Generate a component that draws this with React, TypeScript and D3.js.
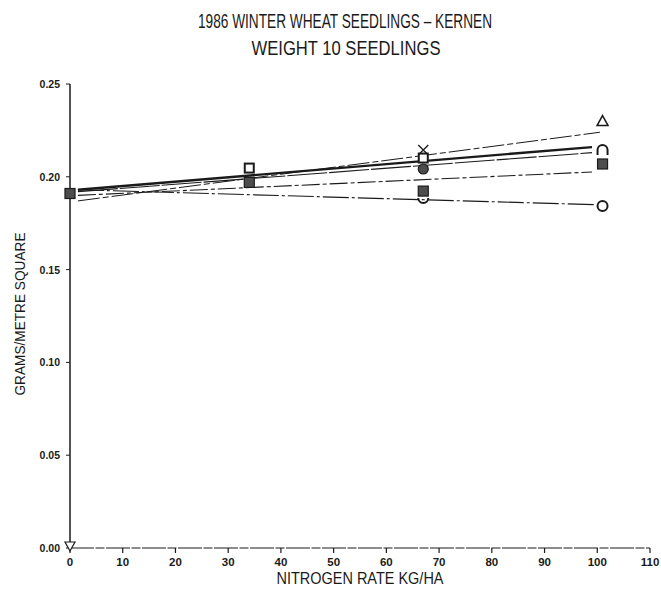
import React from 'react';
import * as d3 from 'd3';

const W = 661;
const H = 591;

// Nitrogen rates (kg/ha) at which seedlings were weighed
const nRates = [0, 34, 67, 101];
const xTicks = [0, 10, 20, 30, 40, 50, 60, 70, 80, 90, 100, 110];
const yTicks = [0, 0.05, 0.1, 0.15, 0.2, 0.25];

// Mean weight of 10 seedlings (g/m²) per treatment, aligned with nRates; null = no mark
const filledSquareVals = [0.191, 0.197, 0.1923, 0.2069];
const openSquareVals = [null, 0.2047, 0.2101, null];
const crossVals = [null, null, 0.2144, null];
const filledCircleVals = [null, null, 0.2042, null];
const openCircleVals = [null, null, null, 0.1843];
const cupVals = [null, null, 0.1875, null];
const archVals = [null, null, null, 0.2144];
const triangleVals = [null, null, null, 0.23];
const invTriangleVals = [0, null, null, null];

// Fitted response lines: rate and value at each end
const fitStartRates = [1.5, 1.5, 1.5, 1.5, 1.5];
const fitEndRates = [100.5, 99, 99, 99, 99.5];
const fitStartVals = [0.187, 0.193, 0.192, 0.19, 0.193];
const fitEndVals = [0.224, 0.216, 0.213, 0.2026, 0.185];
const fitWidths = [1, 2.4, 1.1, 1.1, 1.1];
const fitDashes = ['22 3 6 3', null, '40 2', '18 3 4 3', '26 3 3 3'];

const titleLines = ['1986 WINTER WHEAT SEEDLINGS \u2013 KERNEN', 'WEIGHT 10 SEEDLINGS'];
const xTitle = 'NITROGEN RATE KG/HA';
const yTitle = 'GRAMS/METRE SQUARE';

const x = d3.scaleLinear().domain([0, 110]).range([70, 650]);
const y = d3.scaleLinear().domain([0, 0.25]).range([548, 84]);

const INK = '#1a1a1a';
const FILL = '#4d4d4d';
const TITLE_FONT = "'Liberation Sans Narrow', 'Liberation Sans', sans-serif";
const TICK_FONT = "'Liberation Sans', Arial, sans-serif";

type Pt = { cx: number; cy: number };

function pts(vals: (number | null)[]): Pt[] {
  const out: Pt[] = [];
  vals.forEach((v, i) => {
    if (v !== null) out.push({ cx: x(nRates[i]), cy: y(v) });
  });
  return out;
}

export default function App() {
  const line = d3.line<[number, number]>().x((d) => x(d[0])).y((d) => y(d[1]));

  return (
    <svg width={W} height={H} style={{ display: 'block', position: 'absolute', left: 0, top: 0, background: '#fff' }}>
      {/* titles */}
      <text x={345} y={28} textAnchor="middle" fontFamily={TITLE_FONT} fontSize={21} fill={INK} textLength={294} lengthAdjust="spacingAndGlyphs">
        {titleLines[0]}
      </text>
      <text x={346} y={55} textAnchor="middle" fontFamily={TITLE_FONT} fontSize={21} fill={INK} textLength={189} lengthAdjust="spacingAndGlyphs">
        {titleLines[1]}
      </text>

      {/* y axis */}
      <line x1={x(0)} x2={x(0)} y1={y(0.25)} y2={y(0)} stroke={INK} strokeWidth={1.5} />
      {yTicks.map((t) => (
        <g key={'yt' + t}>
          <line x1={x(0) - 4} x2={x(0)} y1={y(t)} y2={y(t)} stroke={INK} strokeWidth={1} />
          <text x={60} y={y(t) + 4} textAnchor="end" fontFamily={TICK_FONT} fontWeight="bold" fontSize={10.5} fill={INK}>
            {t.toFixed(2)}
          </text>
        </g>
      ))}

      {/* x axis */}
      <line x1={x(0)} x2={x(110)} y1={y(0)} y2={y(0)} stroke={INK} strokeWidth={1} strokeDasharray="24 1.5 9 1.5" />
      {xTicks.map((t) => (
        <g key={'xt' + t}>
          <line x1={x(t)} x2={x(t)} y1={y(0)} y2={y(0) + 5} stroke={INK} strokeWidth={1.2} />
          <text x={x(t)} y={y(0) + 18} textAnchor="middle" fontFamily={TICK_FONT} fontWeight="bold" fontSize={11.5} fill={INK}>
            {t}
          </text>
        </g>
      ))}

      {/* axis titles */}
      <text x={360} y={584} textAnchor="middle" fontFamily={TITLE_FONT} fontSize={17} fill={INK} textLength={167} lengthAdjust="spacingAndGlyphs">
        {xTitle}
      </text>
      <text transform={`translate(25, 314) rotate(-90)`} textAnchor="middle" fontFamily={TITLE_FONT} fontSize={15.5} fill={INK} textLength={163} lengthAdjust="spacingAndGlyphs">
        {yTitle}
      </text>

      {/* fitted lines */}
      {fitStartVals.map((v, i) => (
        <path
          key={'fit' + i}
          d={line([
            [fitStartRates[i], v],
            [fitEndRates[i], fitEndVals[i]],
          ]) as string}
          fill="none"
          stroke={INK}
          strokeWidth={fitWidths[i]}
          strokeDasharray={fitDashes[i] ?? undefined}
        />
      ))}

      {/* markers */}
      {pts(openSquareVals).map((p, i) => (
        <rect key={'os' + i} x={p.cx - 4.5} y={p.cy - 4.5} width={9} height={9} fill="#fff" stroke={INK} strokeWidth={2} />
      ))}
      {pts(crossVals).map((p, i) => (
        <path key={'cx' + i} d={`M${p.cx - 5},${p.cy - 5}L${p.cx + 5},${p.cy + 5}M${p.cx + 5},${p.cy - 5}L${p.cx - 5},${p.cy + 5}`} stroke={INK} strokeWidth={1.3} fill="none" />
      ))}
      {pts(filledCircleVals).map((p, i) => (
        <circle key={'fc' + i} cx={p.cx} cy={p.cy} r={5} fill={FILL} stroke={INK} strokeWidth={1.2} />
      ))}
      {pts(openCircleVals).map((p, i) => (
        <circle key={'oc' + i} cx={p.cx} cy={p.cy} r={5} fill="#fff" stroke={INK} strokeWidth={2} />
      ))}
      {pts(cupVals).map((p, i) => (
        <path key={'cu' + i} d={`M${p.cx - 5},${p.cy - 2}A5,5 0 0 0 ${p.cx + 5},${p.cy - 2}`} fill="none" stroke={INK} strokeWidth={2} />
      ))}
      {pts(archVals).map((p, i) => (
        <path key={'ar' + i} d={`M${p.cx - 5},${p.cy + 5}L${p.cx - 5},${p.cy}A5,5 0 0 1 ${p.cx + 5},${p.cy}L${p.cx + 5},${p.cy + 5}`} fill="none" stroke={INK} strokeWidth={2} />
      ))}
      {pts(triangleVals).map((p, i) => (
        <path key={'tr' + i} d={`M${p.cx},${p.cy - 5.5}L${p.cx + 5.5},${p.cy + 4.5}L${p.cx - 5.5},${p.cy + 4.5}Z`} fill="#fff" stroke={INK} strokeWidth={1.5} />
      ))}
      {pts(invTriangleVals).map((p, i) => (
        <path key={'it' + i} d={`M${p.cx - 5},${p.cy - 6}L${p.cx + 5},${p.cy - 6}L${p.cx},${p.cy + 3}Z`} fill="#fff" stroke={INK} strokeWidth={1.2} />
      ))}
      {pts(filledSquareVals).map((p, i) => (
        <rect key={'fs' + i} x={p.cx - 5} y={p.cy - 5} width={10} height={10} fill={FILL} stroke={INK} strokeWidth={1.2} />
      ))}
    </svg>
  );
}
